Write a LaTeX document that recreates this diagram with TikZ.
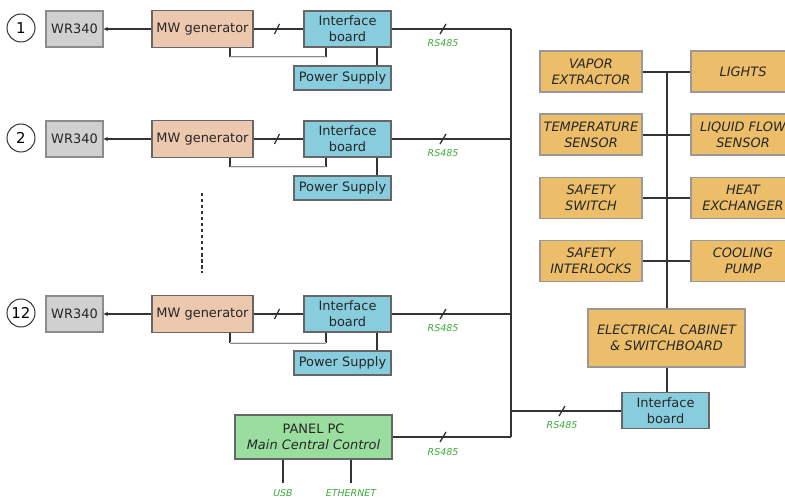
\documentclass[tikz,border=0pt]{standalone}
\usepackage{fontspec}
\setmainfont{DejaVu Sans}
\usetikzlibrary{arrows.meta}
\definecolor{wrfill}{HTML}{D0D0D0}
\definecolor{mwfill}{HTML}{ECC8AE}
\definecolor{ibfill}{HTML}{88CDDE}
\definecolor{orfill}{HTML}{ECBE6A}
\definecolor{pcfill}{HTML}{99DE9E}
\definecolor{edge}{HTML}{666666}
\definecolor{wire}{HTML}{333333}
\definecolor{rsgreen}{HTML}{3DAA3A}
\tikzset{
  blk/.style={draw=edge, line width=1.1bp, inner sep=0pt, align=center, font=\fontsize{13}{16}\selectfont, text=black!85},
  wrbox/.style={blk, fill=wrfill, draw=black!45, minimum width=57bp, minimum height=36bp},
  mwbox/.style={blk, fill=mwfill, minimum width=101bp, minimum height=37bp},
  ibbox/.style={blk, fill=ibfill, minimum width=87bp, minimum height=36bp},
  psbox/.style={blk, fill=ibfill, minimum width=97bp, minimum height=24bp},
  orbox/.style={blk, fill=orfill, draw=black!40, font=\fontsize{13}{16}\selectfont\itshape, minimum height=41bp},
  numc/.style={circle, draw=black!80, line width=1bp, minimum size=28bp, inner sep=0pt, font=\fontsize{15}{15}\selectfont},
  wireln/.style={draw=wire, line width=1.8bp},
  fbln/.style={draw=wire, line width=1.4bp},
  fbhz/.style={draw=black!45, line width=0.6bp, double=black!12, double distance=0.8bp},
  rslbl/.style={text=rsgreen, font=\fontsize{9.5}{9.5}\selectfont\itshape, inner sep=0pt},
  slashln/.style={draw=wire, line width=1.3bp},
}
\begin{document}
\begin{tikzpicture}[x=1bp,y=-1bp]
\useasboundingbox (0,0) rectangle (785,498);
\begin{scope}
\clip (0,0) rectangle (785,498);

% ---------- generator rows ----------
\foreach \n/\lab/\dy in {1/1/0, 2/2/110, 3/12/285}{
  \node[numc] (c\n) at (21,28+\dy) {\lab};
  \node[wrbox] (wr\n) at (74.5,29+\dy) {WR340};
  \node[mwbox] (mw\n) at (202.5,29+\dy) {MW generator};
  \node[ibbox] (ib\n) at (347.5,29+\dy) {Interface\\board};
  \node[psbox] (ps\n) at (342.5,78+\dy) {Power Supply};
  \coordinate (bus\n) at (511,29+\dy);
  \coordinate (fa\n) at (230,57.5+\dy);
  \coordinate (fb\n) at (326,57.5+\dy);
  \draw[wireln, -{Stealth[length=4.5bp,width=4.5bp]}] (mw\n.west) -- (wr\n.east);
  \draw[wireln] (mw\n.east) -- (ib\n.west);
  \draw[slashln] (274.5,34+\dy) -- (279.5,24+\dy);
  \draw[fbln] (mw\n.south -| fa\n) -- (fa\n);
  \draw[fbln] (ib\n.south -| fb\n) -- (fb\n);
  \draw[fbhz] (fa\n) -- (fb\n);
  \draw[wireln] (ib\n.south -| 377,0) -- (ps\n.north -| 377,0);
  \draw[wireln] (ib\n.east) -- (bus\n);
  \draw[slashln] (440,34+\dy) -- (446,24+\dy);
  \node[rslbl] (rs\n) at (443,43.5+\dy) {RS485};
}

\draw[draw=wire, line width=1.4bp, dash pattern=on 3.5bp off 2.5bp] (202,193) -- (202,273);

% ---------- panel PC ----------
\node[blk, fill=pcfill, minimum width=157bp, minimum height=44bp] (pc) at (313.5,437)
  {PANEL PC\\\textit{Main Central Control}};
\coordinate (busB) at (511,437);
\coordinate (busT) at (511,29);
\draw[wireln] (busT) -- (busB);
\draw[wireln] (pc.east) -- (busB);
\draw[slashln] (440,442) -- (446,432);
\node[rslbl] (rsB) at (443,452) {RS485};
\coordinate (usbE) at (283,483);
\coordinate (ethE) at (351,483);
\draw[wireln] (pc.south -| usbE) -- (usbE);
\draw[wireln] (pc.south -| ethE) -- (ethE);
\node[rslbl] (usb) at (283,493.5) {USB};
\node[rslbl] (eth) at (351,493.5) {ETHERNET};

% ---------- right side ----------
\node[ibbox] (ibR) at (665.5,410.5) {Interface\\board};
\coordinate (busR) at (511,411);
\draw[wireln] (busR) -- (busR -| ibR.west);
\draw[slashln] (559,416) -- (565,406);
\node[rslbl] (rsR) at (562,425) {RS485};

\node[orbox, minimum width=157bp, minimum height=58bp] (cab) at (666.5,338)
  {ELECTRICAL CABINET\\\& SWITCHBOARD};
\draw[wireln] (cab.south -| 667,0) -- (ibR.north -| 667,0);

\node[orbox, minimum width=102bp] (vap) at (591,71.5) {VAPOR\\EXTRACTOR};
\node[orbox, minimum width=102bp] (tmp) at (591,134.5) {TEMPERATURE\\SENSOR};
\node[orbox, minimum width=102bp] (ssw) at (591,198) {SAFETY\\SWITCH};
\node[orbox, minimum width=102bp] (sil) at (591,261) {SAFETY\\INTERLOCKS};
\node[orbox, minimum width=104bp] (lig) at (743,71.5) {LIGHTS};
\node[orbox, minimum width=104bp] (lfs) at (743,134.5) {LIQUID FLOW\\SENSOR};
\node[orbox, minimum width=104bp] (hex) at (743,198) {HEAT\\EXCHANGER};
\node[orbox, minimum width=104bp] (cpm) at (743,261) {COOLING\\PUMP};

\coordinate (spT) at (667,72);
\draw[wireln] (spT) -- (cab.north -| spT);
\draw[wireln] (vap.east |- 0,72) -- (lig.west |- 0,72);
\draw[wireln] (tmp.east |- 0,135) -- (lfs.west |- 0,135);
\draw[wireln] (ssw.east |- 0,198) -- (hex.west |- 0,198);
\draw[wireln] (sil.east |- 0,261) -- (cpm.west |- 0,261);
\end{scope}
\end{tikzpicture}
\end{document}
